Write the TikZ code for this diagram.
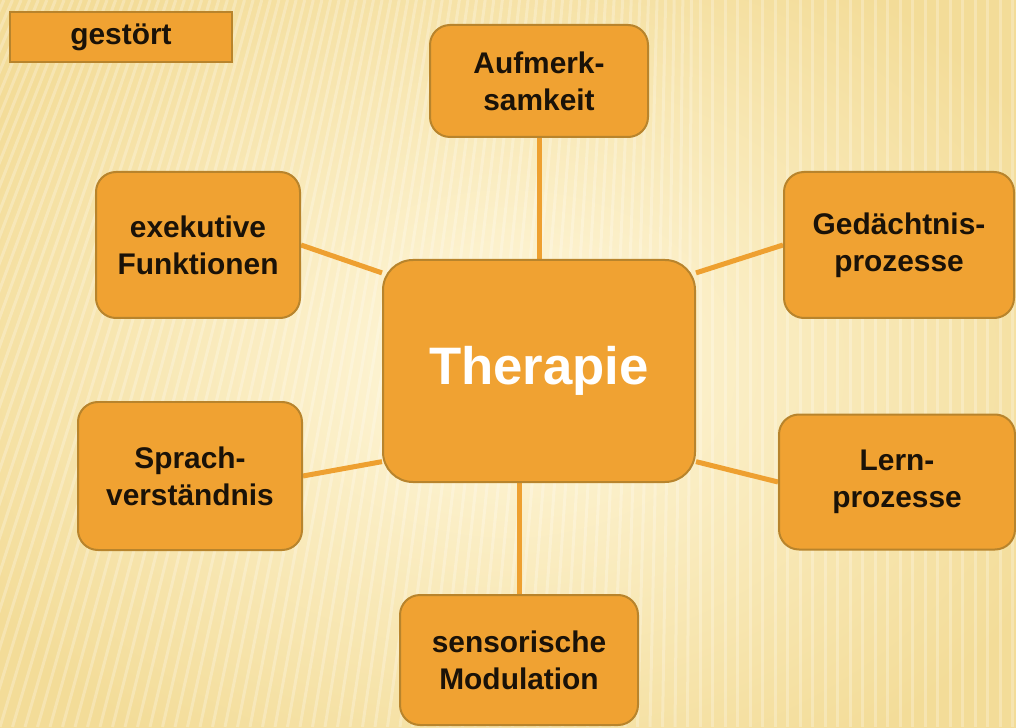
\documentclass[tikz,border=0pt]{standalone}
\usepackage{fontspec}
\setmainfont{Liberation Sans}
\usetikzlibrary{backgrounds}
\definecolor{boxfill}{HTML}{F0A232}
\definecolor{boxline}{HTML}{B8842C}
\definecolor{linkcol}{HTML}{EEA030}
\definecolor{paper}{HTML}{F3DC98}
\definecolor{paperlight}{HTML}{FFF8DE}
\definecolor{ink}{HTML}{1A1208}

\tikzset{
	box/.style={draw=boxline, line width=0.04cm, fill=boxfill, rounded corners=0.4cm, align=center,
		text=ink, font=\fontsize{17}{21}\selectfont\bfseries, inner sep=0pt},
	bigbox/.style={box, rounded corners=0.6cm, text=white, font=\fontsize{30}{36}\selectfont\bfseries},
	link/.style={draw=linkcol, line width=0.1cm}
}

\begin{document}
\begin{tikzpicture}
	\useasboundingbox (0,0) rectangle (20.32,14.54);

	\draw (2.42, 13.80)	node[box, rounded corners=0pt, minimum width=4.44cm, minimum height=1.0cm]	(stoer)	{gestört};
	\draw (10.78, 12.92)	node[box, minimum width=4.36cm, minimum height=2.24cm]	(aufm)	{Aufmerk-\\samkeit};
	\draw (3.96, 9.64)	node[box, minimum width=4.08cm, minimum height=2.92cm]	(exek)	{exekutive\\Funktionen};
	\draw (17.98, 9.64)	node[box, minimum width=4.6cm, minimum height=2.92cm]	(gedae)	{Gedächtnis-\\prozesse};
	\draw (10.78, 7.12)	node[bigbox, minimum width=6.24cm, minimum height=4.44cm]	(ther)	{Therapie};
	\draw (3.80, 5.02)	node[box, minimum width=4.48cm, minimum height=2.96cm]	(sprach)	{Sprach-\\verständnis};
	\draw (17.94, 4.90)	node[box, minimum width=4.72cm, minimum height=2.7cm]	(lern)	{Lern-\\prozesse};
	\draw (10.38, 1.34)	node[box, minimum width=4.76cm, minimum height=2.6cm]	(sens)	{sensorische\\Modulation};

	\begin{scope}[on background layer]
		% paper
		\shade[inner color=paperlight, outer color=paper] (-2,-2) rectangle (22.32,16.54);
		\begin{scope}
			\clip (0,0) rectangle (20.32,14.54);
			\foreach \x in {-8,-7.75,...,21} {
				\pgfmathsetmacro\t{\x+5*max(0,1-(\x+2)/16)}
				\draw[white, opacity=0.25, line width=0.06cm] (\x,0) -- (\t,14.54);
			}
		\end{scope}
		% links
		\draw[link] (aufm.south) -- (ther.north);
		\draw[link] (exek.east) -- (ther.148);
		\draw[link] (gedae.west) -- (ther.32);
		\draw[link] (sprach.east) -- (ther.210);
		\draw[link] (lern.west) -- (ther.330);
		\draw[link] (sens.north) -- (sens.north |- ther.south);
	\end{scope}
\end{tikzpicture}
\end{document}
